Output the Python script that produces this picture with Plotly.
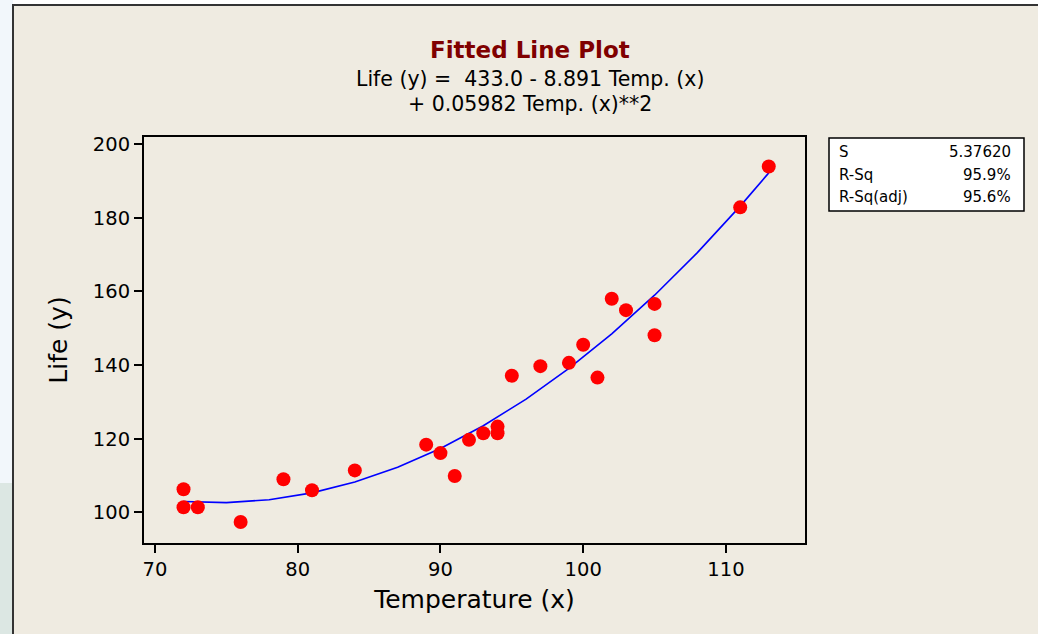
import plotly.graph_objects as go

# Data
temp = [72, 72, 73, 76, 79, 81, 84, 89, 90, 91, 92, 93, 94, 94, 95, 97, 99, 100, 101, 102, 103, 105, 105, 111, 113]
life = [106.3, 101.4, 101.4, 97.4, 109.0, 106.0, 111.4, 118.4, 116.1, 109.9, 119.7, 121.5, 123.3, 121.5,
        137.1, 139.7, 140.6, 145.5, 136.6, 158.0, 154.9, 156.6, 148.1, 182.8, 193.9]

# Fitted line vertices
fit_x = [72, 75, 78, 81, 84, 87, 90, 93, 96, 99, 102, 105, 108, 111, 113]
fit_y = [102.96, 102.66, 103.45, 105.31, 108.25, 112.26, 117.35, 123.52, 130.77, 139.09,
         148.49, 158.96, 170.51, 183.14, 192.16]

x_ticks = [70, 80, 90, 100, 110]
y_ticks = [100, 120, 140, 160, 180, 200]

stat_names = ["S", "R-Sq", "R-Sq(adj)"]
stat_values = ["5.37620", "95.9%", "95.6%"]

title = "Fitted Line Plot"
eq_line1 = "Life (y) =  433.0 - 8.891 Temp. (x)"
eq_line2 = "+ 0.05982 Temp. (x)**2"

W, H = 1038, 634
L, R, T, B = 144, 805, 137, 543
FONT = "DejaVu Sans"

def px(x):
    return (x - L) / (R - L)

def py(y):
    return (B - y) / (B - T)

fig = go.Figure()
fig.add_trace(go.Scatter(x=fit_x, y=fit_y, mode="lines",
                         line=dict(color="#0000FF", width=1.6), hoverinfo="skip"))
fig.add_trace(go.Scatter(x=temp, y=life, mode="markers",
                         marker=dict(color="#FF0000", size=14, line=dict(width=0))))

shapes = [
    # left desktop strip
    dict(type="rect", xref="paper", yref="paper", x0=px(-5), x1=px(13), y0=py(-5), y1=py(640),
         fillcolor="#F2F7FB", line=dict(width=0), layer="below"),
    dict(type="rect", xref="paper", yref="paper", x0=px(-5), x1=px(13), y0=py(483), y1=py(640),
         fillcolor="#DCE7E3", line=dict(width=0), layer="below"),
    # beige frame
    dict(type="rect", xref="paper", yref="paper", x0=px(13), x1=px(1060), y0=py(5), y1=py(660),
         fillcolor="#EFEBE1", line=dict(color="#333333", width=2), layer="below"),
    # stats box
    dict(type="rect", xref="paper", yref="paper", x0=px(829), x1=px(1024), y0=py(138), y1=py(211),
         fillcolor="#FFFFFF", line=dict(color="#000000", width=1.5)),
]

annotations = [
    dict(text="<b>" + title + "</b>", x=px(530), y=py(50), xref="paper", yref="paper",
         showarrow=False, font=dict(family=FONT, size=23, color="#800000"), xanchor="center", yanchor="middle"),
    dict(text=eq_line1, x=px(530), y=py(79), xref="paper", yref="paper",
         showarrow=False, font=dict(family=FONT, size=20.5, color="#000000"), xanchor="center", yanchor="middle"),
    dict(text=eq_line2, x=px(530), y=py(104), xref="paper", yref="paper",
         showarrow=False, font=dict(family=FONT, size=20.5, color="#000000"), xanchor="center", yanchor="middle"),
]
for i, (n, v) in enumerate(zip(stat_names, stat_values)):
    yy = 152 + i * 22.5
    annotations.append(dict(text=n, x=px(837), y=py(yy), xref="paper", yref="paper", showarrow=False,
                            font=dict(family=FONT, size=15, color="#000000"), xanchor="left", yanchor="middle"))
    annotations.append(dict(text=v, x=px(1013), y=py(yy), xref="paper", yref="paper", showarrow=False,
                            font=dict(family=FONT, size=15, color="#000000"), xanchor="right", yanchor="middle"))

fig.update_layout(
    width=W, height=H,
    margin=dict(l=L, r=W - R, t=T, b=H - B, pad=0),
    paper_bgcolor="#FFFFFF",
    plot_bgcolor="#FFFFFF",
    showlegend=False,
    shapes=shapes,
    annotations=annotations,
    font=dict(family=FONT, color="#000000"),
    xaxis=dict(range=[69.23, 115.54], tickvals=x_ticks, ticks="outside", ticklen=8, tickwidth=1.5,
               tickcolor="#000000", showline=True, linecolor="#000000", linewidth=2, mirror=True,
               showgrid=False, zeroline=False, tickfont=dict(size=19.5, family=FONT),
               title=dict(text="Temperature (x)", font=dict(size=25, family=FONT), standoff=10)),
    yaxis=dict(range=[91.7, 201.9], tickvals=y_ticks, ticks="outside", ticklen=8, tickwidth=1.5,
               tickcolor="#000000", showline=True, linecolor="#000000", linewidth=2, mirror=True,
               showgrid=False, zeroline=False, tickfont=dict(size=19.5, family=FONT),
               title=dict(text="Life (y)", font=dict(size=25, family=FONT), standoff=18)),
)

fig.write_html("out.html", config={"displayModeBar": False},
               post_script="document.body.style.margin='0';document.body.style.padding='0';")
